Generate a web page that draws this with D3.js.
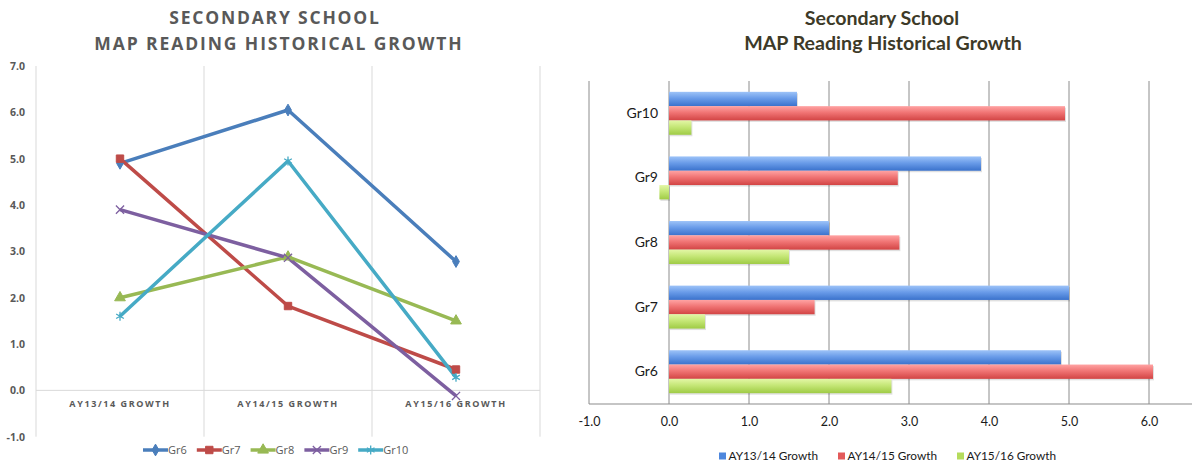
<!DOCTYPE html>
<html>
<head>
<meta charset="utf-8">
<script src="https://cdn.jsdelivr.net/npm/d3@7"></script>
<style>
  body { margin: 0; background: #fff; }
  svg { display: block; }
</style>
</head>
<body>
<div class="chart"></div>
<script>
//** data */
const periods = ["AY13/14 Growth", "AY14/15 Growth", "AY15/16 Growth"];
const grades = ["Gr6", "Gr7", "Gr8", "Gr9", "Gr10"];
const gr6 = [4.9, 6.05, 2.78];
const gr7 = [5.0, 1.82, 0.45];
const gr8 = [2.0, 2.88, 1.5];
const gr9 = [3.9, 2.86, -0.12];
const gr10 = [1.6, 4.95, 0.28];
const valueTicks = [-1, 0, 1, 2, 3, 4, 5, 6, 7];
const barTicks = [-1, 0, 1, 2, 3, 4, 5, 6];

const byGrade = {Gr6: gr6, Gr7: gr7, Gr8: gr8, Gr9: gr9, Gr10: gr10};
const fmt = d => d.toFixed(1);

var svg = d3.select(".chart")
            .append("svg")
            .attr('width', 1192)
            .attr('height', 472);

//** Left: line chart */
const lineColors = {Gr6: '#4a7ebb', Gr7: '#be4b48', Gr8: '#98b954', Gr9: '#7d5fa0', Gr10: '#46aac5'};
const lineSymbols = {Gr6: d3.symbolDiamond, Gr7: d3.symbolSquare, Gr8: d3.symbolTriangle, Gr9: d3.symbolX, Gr10: d3.symbolAsterisk};
const filledSym = {Gr6: true, Gr7: true, Gr8: true, Gr9: false, Gr10: false};
const symSize = {Gr6: 40, Gr7: 55, Gr8: 50, Gr9: 45, Gr10: 55};

var left = svg.append("g");

left.append("text").attr("x", 275).attr("y", 24).attr("text-anchor", "middle")
  .style("font", "bold 17.5px 'Open Sans'").style("letter-spacing", "1.8px").attr("fill", "#595959")
  .text("SECONDARY SCHOOL");
left.append("text").attr("x", 279).attr("y", 50).attr("text-anchor", "middle")
  .style("font", "bold 17.5px 'Open Sans'").style("letter-spacing", "1.9px").attr("fill", "#595959")
  .text("MAP READING HISTORICAL GROWTH");

var xL = d3.scaleBand().domain(periods).range([36, 540]);
var yL = d3.scaleLinear().domain([-1, 7]).range([436.7, 66]);

// vertical grid lines at category boundaries
var bounds = periods.map(p => xL(p)).concat([xL.range()[1]]);
left.selectAll(".vgrid").data(bounds).enter().append("line")
  .attr("x1", d => d).attr("x2", d => d)
  .attr("y1", yL(7)).attr("y2", yL(-1))
  .attr("stroke", "#d9d9d9").attr("stroke-width", 1);

left.append("line")
  .attr("x1", 36).attr("x2", 540).attr("y1", yL(0)).attr("y2", yL(0))
  .attr("stroke", "#d9d9d9").attr("stroke-width", 1);

var yAxisL = left.append("g").attr("transform", "translate(36,0)")
  .call(d3.axisLeft(yL).tickValues(valueTicks).tickSize(0).tickPadding(11).tickFormat(fmt));
yAxisL.select(".domain").remove();
yAxisL.selectAll("text").style("font", "bold 10.5px 'Open Sans'").attr("fill", "#595959");

var xAxisL = left.append("g").attr("transform", "translate(0," + yL(0) + ")")
  .call(d3.axisBottom(xL).tickSize(0).tickFormat(d => d.toUpperCase()));
xAxisL.select(".domain").remove();
xAxisL.selectAll("text").attr("y", 13).attr("dy", "0.35em")
  .style("font", "bold 9px 'Open Sans'").style("letter-spacing", "1.6px").attr("fill", "#595959");

var line = d3.line().x((d, i) => xL(periods[i]) + xL.bandwidth() / 2).y(d => yL(d));

grades.forEach(g => {
  left.append("path").datum(byGrade[g])
    .attr("d", line)
    .attr("fill", "none")
    .attr("stroke", lineColors[g])
    .attr("stroke-width", 3.5)
    .attr("stroke-linejoin", "round");
});
grades.forEach(g => {
  left.selectAll(".m" + g).data(byGrade[g]).enter().append("path")
    .attr("transform", (d, i) => "translate(" + (xL(periods[i]) + xL.bandwidth() / 2) + "," + yL(d) + ")")
    .attr("d", d3.symbol().type(lineSymbols[g]).size(symSize[g]))
    .attr("fill", filledSym[g] ? lineColors[g] : "none")
    .attr("stroke", lineColors[g])
    .attr("stroke-width", filledSym[g] ? 1 : 1.3);
});

// legend
var lx = 143;
grades.forEach(g => {
  var item = left.append("g").attr("transform", "translate(" + lx + ",450)");
  item.append("line").attr("x1", 0).attr("x2", 25).attr("y1", 0).attr("y2", 0)
    .attr("stroke", lineColors[g]).attr("stroke-width", 3.5);
  item.append("path").attr("transform", "translate(12.5,0)")
    .attr("d", d3.symbol().type(lineSymbols[g]).size(symSize[g]))
    .attr("fill", filledSym[g] ? lineColors[g] : "none")
    .attr("stroke", lineColors[g]).attr("stroke-width", filledSym[g] ? 1 : 1.3);
  var t = item.append("text").attr("x", 25).attr("y", 0).attr("dy", "0.35em")
    .style("font", "11px 'Open Sans'").attr("fill", "#595959").text(g);
  lx += 25 + t.node().getComputedTextLength() + 10;
});

//** Right: horizontal bar chart */
var right = svg.append("g");

right.append("text").attr("x", 882).attr("y", 25).attr("text-anchor", "middle")
  .style("font", "bold 19.6px Lato").attr("fill", "#3d3a28")
  .text("Secondary School");
right.append("text").attr("x", 883).attr("y", 50).attr("text-anchor", "middle")
  .style("font", "bold 19.6px Lato").attr("fill", "#3d3a28")
  .text("MAP Reading Historical Growth");

var xR = d3.scaleLinear().domain([-1, 7]).range([589, 1229]);
var yR = d3.scaleBand().domain(grades.slice().reverse()).range([81, 404])
  .paddingInner(0.335).paddingOuter(0.1675);
var ySub = d3.scaleBand().domain(periods).range([0, yR.bandwidth()]);

var defs = svg.append("defs");
const barGrad = [
  ["#9dc3f8", "#6a9ce9", "#3a72cc"],
  ["#ffa3a3", "#f07474", "#d24444"],
  ["#e3f6a6", "#c5e777", "#9fcb45"]
];
const legendColors = ["#4e87dd", "#e35a5a", "#b5dc5c"];
barGrad.forEach((c, i) => {
  var lg = defs.append("linearGradient").attr("id", "bg" + i)
    .attr("x1", 0).attr("y1", 0).attr("x2", 0).attr("y2", 1);
  lg.append("stop").attr("offset", "0%").attr("stop-color", c[0]);
  lg.append("stop").attr("offset", "45%").attr("stop-color", c[1]);
  lg.append("stop").attr("offset", "100%").attr("stop-color", c[2]);
});

right.selectAll(".rgrid").data(barTicks.filter(d => d > -1).concat([7])).enter().append("line")
  .attr("x1", d => xR(d)).attr("x2", d => xR(d))
  .attr("y1", 81).attr("y2", 404)
  .attr("stroke", "#8c8c8c").attr("stroke-width", 1);
right.append("line").attr("x1", xR(-1)).attr("x2", xR(-1)).attr("y1", 81).attr("y2", 404)
  .attr("stroke", "#8c8c8c").attr("stroke-width", 1);

grades.forEach(g => {
  periods.forEach((p, i) => {
    var v = byGrade[g][i];
    var x0 = Math.min(xR(0), xR(v)), w = Math.abs(xR(v) - xR(0));
    var y0 = yR(g) + ySub(p);
    right.append("rect")
      .attr("x", x0 + 1).attr("y", y0 + 1.5)
      .attr("width", w).attr("height", ySub.bandwidth())
      .attr("fill", "#000").attr("opacity", 0.12);
    right.append("rect")
      .attr("x", x0).attr("y", y0)
      .attr("width", w).attr("height", ySub.bandwidth())
      .attr("fill", "url(#bg" + i + ")");
  });
});

var yAxisR = right.append("g").attr("transform", "translate(" + xR(0) + ",0)")
  .call(d3.axisLeft(yR).tickSize(0).tickPadding(11));
yAxisR.select(".domain").remove();
yAxisR.selectAll("text").style("font", "14px Lato").attr("fill", "#1a1a1a");

var xAxisR = right.append("g").attr("transform", "translate(0,404)")
  .call(d3.axisBottom(xR).tickValues(barTicks).tickSize(0).tickFormat(fmt));
xAxisR.select(".domain").remove();
xAxisR.selectAll("text").attr("y", 18).attr("dy", "0.35em")
  .style("font", "12.5px Lato").attr("fill", "#1a1a1a");
right.append("line").attr("x1", xR(-1)).attr("x2", 1192).attr("y1", 404).attr("y2", 404)
  .attr("stroke", "#8c8c8c").attr("stroke-width", 1.2);

var rlx = 719;
periods.forEach((p, i) => {
  var item = right.append("g").attr("transform", "translate(" + rlx + ",456)");
  item.append("rect").attr("x", 0).attr("y", -3.5).attr("width", 7).attr("height", 7)
    .attr("fill", legendColors[i]);
  var t = item.append("text").attr("x", 9.5).attr("dy", "0.35em")
    .style("font", "11.8px Lato").attr("fill", "#1a1a1a").text(p);
  rlx += 9.5 + t.node().getComputedTextLength() + 20;
});
</script>
</body>
</html>
